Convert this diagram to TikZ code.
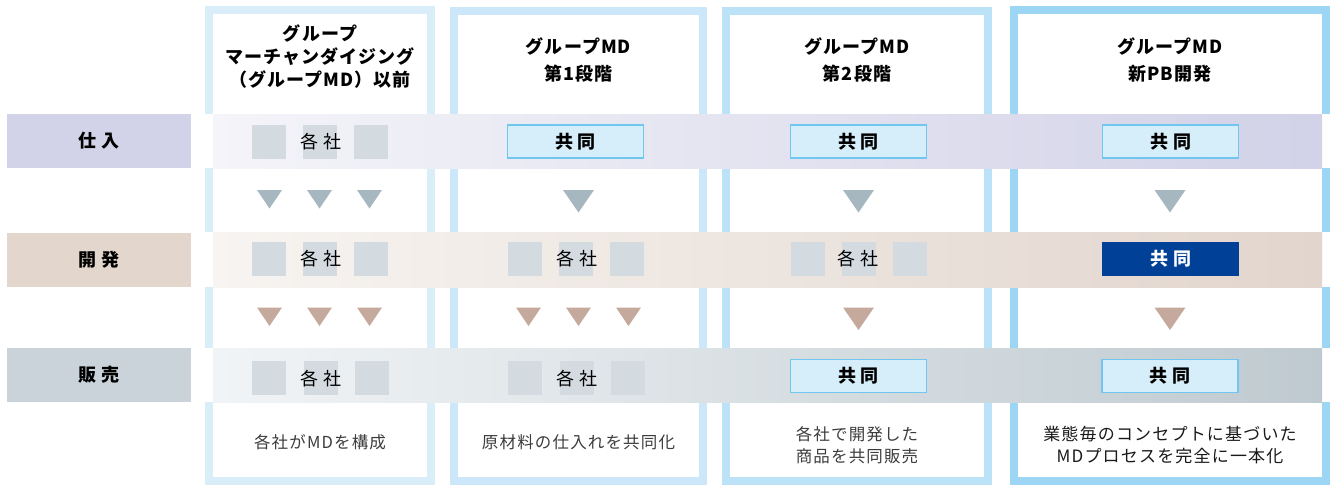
\documentclass[tikz,border=0pt]{standalone}
\usepackage{fontspec}
\newfontfamily\jp{Noto Sans CJK JP}
\newfontfamily\jphd{Noto Sans CJK JP}[LetterSpace=6]
\newfontfamily\jpnt{Noto Sans CJK JP}[LetterSpace=7]
\definecolor{frameA}{HTML}{DAEEFA}
\definecolor{frameB}{HTML}{CBE7F9}
\definecolor{frameC}{HTML}{BCE2F7}
\definecolor{frameD}{HTML}{9DD6F4}
\definecolor{bandAl}{HTML}{F4F4F9}
\definecolor{bandAr}{HTML}{D2D2E8}
\definecolor{bandBl}{HTML}{F7F4F1}
\definecolor{bandBr}{HTML}{E2D5CD}
\definecolor{bandCl}{HTML}{F1F4F6}
\definecolor{bandCr}{HTML}{BFCAD0}
\definecolor{lblA}{HTML}{D2D2E8}
\definecolor{lblB}{HTML}{E2D6CD}
\definecolor{lblC}{HTML}{C9D3D9}
\definecolor{sqgray}{HTML}{D3DBE1}
\definecolor{trigray}{HTML}{A7B7C0}
\definecolor{tribrown}{HTML}{C4A99C}
\definecolor{kyfill}{HTML}{D6EEFA}
\definecolor{kyline}{HTML}{6FC6EE}
\definecolor{navy}{HTML}{004097}
\definecolor{notegray}{HTML}{3C3C3C}
\begin{document}
\begin{tikzpicture}[x=1pt,y=-1pt,
  frame/.style={line width=8pt},
  hdr/.style={align=center, inner sep=0pt, text=black, font=\jphd\bfseries\fontsize{18}{27}\selectfont},
  hdrA/.style={hdr, font=\jphd\bfseries\fontsize{18}{23}\selectfont},
  lbl/.style={inner sep=0pt, minimum width=184, minimum height=54, font=\jp\bfseries\fontsize{18}{20}\selectfont, text=black},
  sq/.style={fill=sqgray, inner sep=0pt, minimum width=34, minimum height=34},
  eachco/.style={inner sep=0pt, font=\jp\fontsize{18}{20}\selectfont, text=black},
  kyodo/.style={draw=kyline, fill=kyfill, line width=1.2pt, inner sep=0pt, minimum width=136, minimum height=33, font=\jp\bfseries\fontsize{18}{20}\selectfont, text=black},
  kyodoN/.style={fill=navy, inner sep=0pt, minimum width=137, minimum height=34, font=\jp\bfseries\fontsize{18}{20}\selectfont, text=white},
  note/.style={align=center, inner sep=0pt, font=\jpnt\fontsize{16.5}{22}\selectfont, text=notegray},
  noteD/.style={align=center, inner sep=0pt, font=\jpnt\fontsize{17}{21.5}\selectfont, text=black!90},
  trismall/.pic={\fill (-12.5,0) -- (12.5,0) -- (0,18.5) -- cycle;},
  tribig/.pic={\fill (-15.5,0) -- (15.5,0) -- (0,22.5) -- cycle;}
]
\useasboundingbox (0,0) rectangle (1333,485);
% column frames
\draw[frame, draw=frameA] (209,10) rectangle (431,481);
\draw[frame, draw=frameB] (454,11) rectangle (703,481);
\draw[frame, draw=frameC] (726,11) rectangle (988,481);
\draw[frame, draw=frameD] (1014,10) rectangle (1326,481);
% bands
\fill[white] (205,114) rectangle (1330,168);
\shade[left color=bandAl, right color=bandAr] (213,114) rectangle (1322,168);
\fill[white] (205,232) rectangle (1330,287);
\shade[left color=bandBl, right color=bandBr] (213,232) rectangle (1322,287);
\fill[white] (205,348) rectangle (1330,402);
\shade[left color=bandCl, right color=bandCr] (213,348) rectangle (1322,402);
% row labels
\node[lbl, fill=lblA] (lshiire) at (99,141) {仕\kern6pt入};
\node[lbl, fill=lblB] (lkaihatsu) at (99,259.5) {開\kern6pt発};
\node[lbl, fill=lblC] (lhanbai) at (99,375) {販\kern6pt売};
% headers
\node[hdrA] (h1) at (320,57) {グループ\\マーチャンダイジング\\（グループMD）以前};
\node[hdr] (h2) at (578.5,59.5) {グループMD\\第1段階};
\node[hdr] (h3) at (857,59.5) {グループMD\\第2段階};
\node[hdr] (h4) at (1170,59.5) {グループMD\\新PB開発};
% row 1
\node[sq] (a1) at (269,141.5) {};
\node[sq] (a2) at (320,141.5) {};
\node[sq] (a3) at (371,141.5) {};
\node[eachco] (t11) at (321,142) {各\kern5pt社};
\node[kyodo] (t12) at (575.5,141.5) {共\kern5pt同};
\node[kyodo] (t13) at (858.5,141.5) {共\kern5pt同};
\node[kyodo] (t14) at (1170.5,141.5) {共\kern5pt同};
% row 2
\node[sq] (b1) at (269,259) {};
\node[sq] (b2) at (320,259) {};
\node[sq] (b3) at (371,259) {};
\node[eachco] (t21) at (321,259) {各\kern5pt社};
\node[sq] (c1) at (525,259) {};
\node[sq] (c2) at (576,259) {};
\node[sq] (c3) at (627,259) {};
\node[eachco] (t22) at (577,259) {各\kern5pt社};
\node[sq] (d1) at (808,259) {};
\node[sq] (d2) at (859,259) {};
\node[sq] (d3) at (910,259) {};
\node[eachco] (t23) at (858,259) {各\kern5pt社};
\node[kyodoN] (t24) at (1170.5,259) {共\kern5pt同};
% row 3
\node[sq] (e1) at (269,378) {};
\node[sq] (e2) at (321,378) {};
\node[sq] (e3) at (372,378) {};
\node[eachco] (t31) at (321,379) {各\kern5pt社};
\node[sq] (f1) at (525,378) {};
\node[sq] (f2) at (577,378) {};
\node[sq] (f3) at (628,378) {};
\node[eachco] (t32) at (577,379) {各\kern5pt社};
\node[kyodo] (t33) at (858.5,376) {共\kern5pt同};
\node[kyodo] (t34) at (1170,376) {共\kern5pt同};
% arrows row1 -> row2
\pic[trigray] at (269.5,190) {trismall};
\pic[trigray] at (319.5,190) {trismall};
\pic[trigray] at (369.5,190) {trismall};
\pic[trigray] at (578.5,190) {tribig};
\pic[trigray] at (858.5,190) {tribig};
\pic[trigray] at (1170,190) {tribig};
% arrows row2 -> row3
\pic[tribrown] at (269.5,307.5) {trismall};
\pic[tribrown] at (319.5,307.5) {trismall};
\pic[tribrown] at (369.5,307.5) {trismall};
\pic[tribrown] at (528.5,307.5) {trismall};
\pic[tribrown] at (578.5,307.5) {trismall};
\pic[tribrown] at (628.5,307.5) {trismall};
\pic[tribrown] at (858.5,307.5) {tribig};
\pic[tribrown] at (1170,307.5) {tribig};
% bottom notes
\node[note] (n1) at (320,442) {各社がMDを構成};
\node[note] (n2) at (578.5,442) {原材料の仕入れを共同化};
\node[note] (n3) at (857,445) {各社で開発した\\商品を共同販売};
\node[noteD] (n4) at (1170,445) {業態毎のコンセプトに基づいた\\MDプロセスを完全に一本化};
\end{tikzpicture}
\end{document}
